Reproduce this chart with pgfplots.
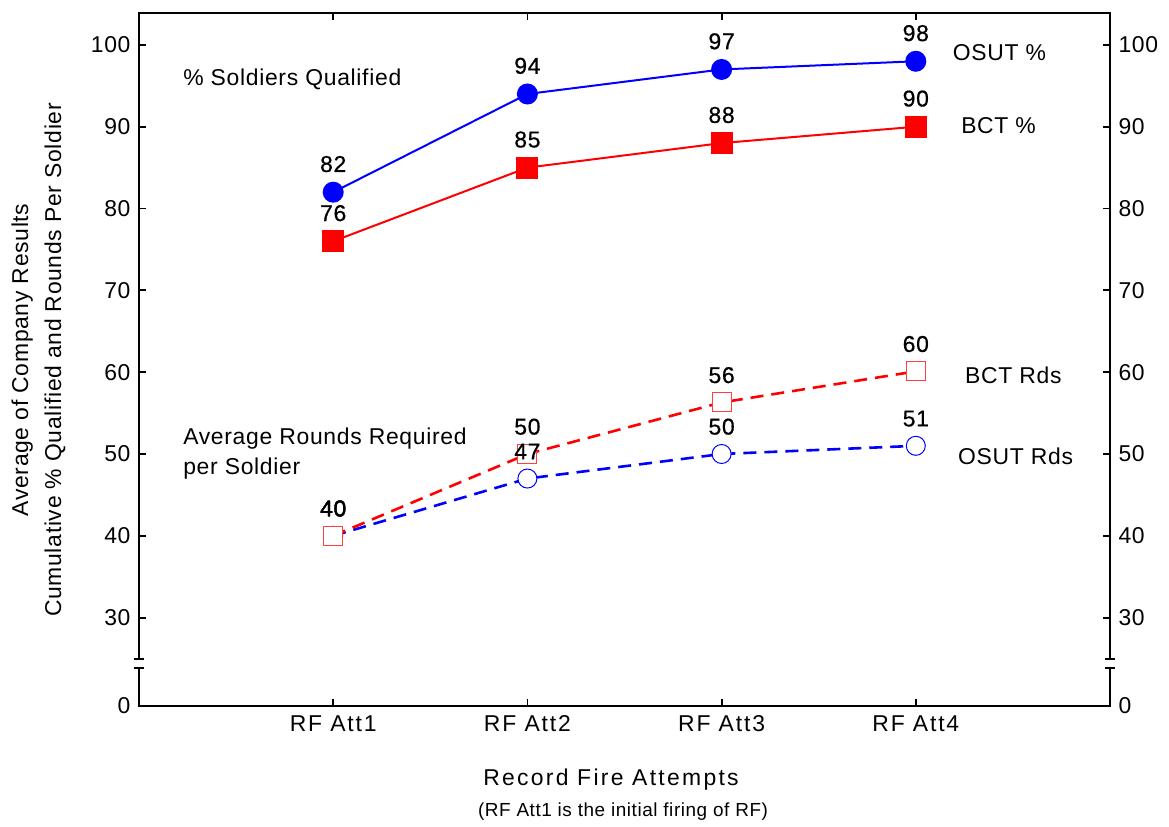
\documentclass[border=0pt]{standalone}
\usepackage{fontspec}
\setmainfont[LetterSpace=3]{Liberation Sans}
\usepackage{pgfplots}
\pgfplotsset{compat=1.18}
\definecolor{bl}{RGB}{0,0,255}
\definecolor{rd}{RGB}{255,0,0}
\newcommand{\fs}{\fontsize{23}{28}\selectfont}

\begin{document}
\begin{tikzpicture}
\useasboundingbox (-139bp,-121bp) rectangle (1030bp,706bp);
\pgfplotsset{
  base/.style={
    scale only axis, width=971bp, height=693bp,
    xmin=0, xmax=5, ymin=19.2, ymax=103.9,
    xtick={1,2,3,4}, xticklabels={RF Att1,RF Att2,RF Att3,RF Att4},
    ytick={19.2,30,40,50,60,70,80,90,100},
    yticklabels={0,30,40,50,60,70,80,90,100},
    tick align=inside, major tick length=7bp,
    axis line style={line width=2.2bp},
    every tick/.style={line width=1.8bp, black},
    ticklabel style={font=\fs},
    clip=false,
  },
  dl/.style={nodes near coords, point meta=explicit symbolic,
    every node near coord/.append style={font=\fs\addfontfeatures{FakeBold=0.6}, text=black, anchor=south, inner sep=0pt, yshift=19bp}},
}
\begin{axis}[base, at={(0,0)}, anchor=south west,
  yticklabel style={xshift=-5bp},
  xticklabel style={yshift=-6bp, font=\fs\addfontfeatures{LetterSpace=8}},
]
% OSUT Rds
\addplot[bl, line width=2.6bp, dash pattern=on 13bp off 8bp, mark=*, mark size=9.5bp,
  mark options={solid, line width=1bp, fill=white, draw=bl}]
  coordinates {(1,40) (2,47) (3,50) (4,51)};
% BCT Rds
\addplot[rd, line width=2.6bp, dash pattern=on 13bp off 8bp, mark=square*, mark size=9.5bp,
  mark options={solid, line width=1bp, fill=white, draw=rd!75}]
  coordinates {(1,40) (2,50) (3,56.3) (4,60.1)};
% labels of the rounds series, drawn over the marks
\addplot[draw=none, mark=none, dl]
  coordinates {(1,40)[40] (2,47)[47] (3,50)[50] (4,51)[51]};
\addplot[draw=none, mark=none, dl]
  coordinates {(1,40)[40] (2,50)[50] (3,56.3)[56] (4,60.1)[60]};
% BCT %
\addplot[rd, line width=2bp, mark=square*, mark size=10bp, mark options={solid}, dl]
  coordinates {(1,76)[76] (2,85)[85] (3,88)[88] (4,90)[90]};
% OSUT %
\addplot[bl, line width=2bp, mark=*, mark size=9.5bp, mark options={solid}, dl]
  coordinates {(1,82)[82] (2,94)[94] (3,97)[97] (4,98)[98]};

\node[font=\fs, anchor=base west, inner sep=0pt] at (axis cs:0.227,94.98) {\% Soldiers Qualified};
\node[font=\fs, anchor=base west, inner sep=0pt] at (axis cs:4.19,98.04) {OSUT \%};
\node[font=\fs, anchor=base west, inner sep=0pt] at (axis cs:4.233,89.23) {BCT \%};
\node[font=\fs, anchor=base west, inner sep=0pt] at (axis cs:4.253,58.63) {BCT Rds};
\node[font=\fs, anchor=base west, inner sep=0pt] at (axis cs:4.217,48.7) {OSUT Rds};
\node[font=\fs, anchor=base west, inner sep=0pt] at (axis cs:0.227,51.16) {Average Rounds Required};
\node[font=\fs, anchor=base west, inner sep=0pt] at (axis cs:0.227,47.49) {per Soldier};

\coordinate (bL1) at (axis cs:0,23.8);
\coordinate (bL2) at (axis cs:0,25.0);
\coordinate (bR1) at (axis cs:5,23.8);
\coordinate (bR2) at (axis cs:5,25.0);
\end{axis}
\begin{axis}[base, at={(0,0)}, anchor=south west, hide x axis,
  axis y line*=right, yticklabel pos=right, ytick pos=right,
  yticklabel style={xshift=5bp}]
\end{axis}
% axis breaks
\fill[white] ([xshift=-4bp]bL1) rectangle ([xshift=4bp]bL2);
\fill[white] ([xshift=-4bp]bR1) rectangle ([xshift=4bp]bR2);
\foreach \c in {bL1,bL2,bR1,bR2}{
  \draw[line width=2bp] ([xshift=-5bp]\c) -- ([xshift=5bp]\c);
}
% labels
\node[rotate=90, align=center, font=\fontsize{23}{33}\selectfont] at (-100.5bp,346bp)
  {Average of Company Results\\Cumulative \% Qualified and Rounds Per Soldier};
\node[font=\fs\addfontfeatures{LetterSpace=10}] at (472bp,-74bp) {Record Fire Attempts};
\node[font=\fontsize{19}{22}\selectfont] at (484bp,-106bp) {(RF Att1 is the initial firing of RF)};
\end{tikzpicture}
\end{document}
